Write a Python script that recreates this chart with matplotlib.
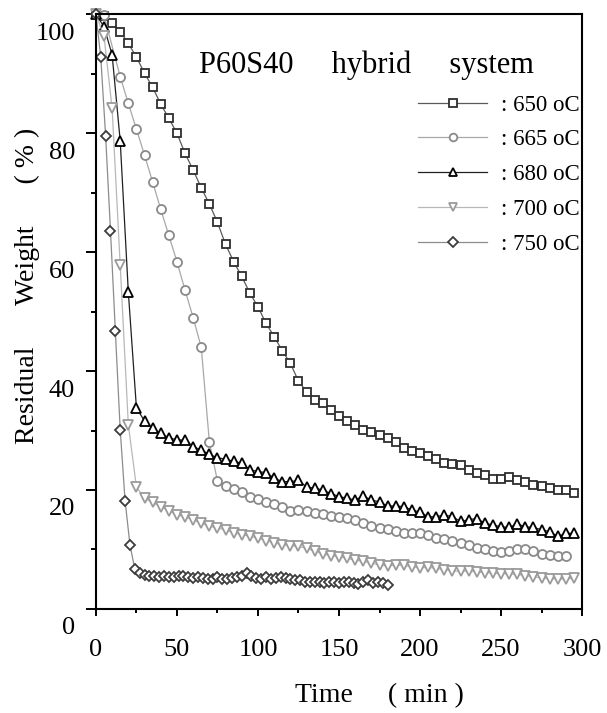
import matplotlib
matplotlib.use("Agg")
import matplotlib.pyplot as plt
import matplotlib.transforms as mtransforms
from matplotlib.ticker import MultipleLocator

plt.rcParams["font.family"] = ["Liberation Serif", "DejaVu Serif"]

t_650 = list(range(0, 300, 5))
w_650 = [100, 99.7, 98.5, 97.1, 95.1, 92.8, 90.1, 87.7, 84.9, 82.5,
         80.0, 76.6, 73.8, 70.8, 68.1, 65.0, 61.3, 58.4, 55.9, 53.1,
         50.8, 48.0, 45.8, 43.4, 41.3, 38.3, 36.5, 35.1, 34.6, 33.4,
         32.5, 31.6, 30.9, 30.1, 29.8, 29.2, 28.7, 28.0, 27.0, 26.6,
         26.2, 25.7, 25.2, 24.5, 24.4, 24.2, 23.4, 22.8, 22.5, 21.8,
         21.8, 22.1, 21.7, 21.4, 20.8, 20.6, 20.3, 20.0, 20.0, 19.5]

t_665 = [0, 5] + list(range(15, 295, 5))
w_665 = [100, 99.8, 89.5, 85.0, 80.7, 76.3, 71.8, 67.2, 62.8, 58.4,
         53.6, 49.0, 44.0, 28.1, 21.5, 20.6, 20.1, 19.6, 18.9, 18.4,
         17.9, 17.6, 17.1, 16.5, 16.7, 16.4, 16.2, 15.9, 15.7, 15.5,
         15.3, 15.0, 14.5, 13.9, 13.6, 13.4, 13.1, 12.8, 12.7, 12.7,
         12.4, 11.9, 11.7, 11.4, 11.1, 10.7, 10.3, 10.0, 9.7, 9.6,
         9.8, 10.1, 10.1, 9.8, 9.3, 9.1, 8.9, 8.9]

t_680 = list(range(0, 300, 5))
w_680 = [100, 97.9, 93.2, 78.7, 53.3, 33.8, 31.6, 30.4, 29.5, 28.8,
         28.4, 28.4, 27.3, 26.7, 26.0, 25.4, 25.2, 24.8, 24.5, 23.4,
         23.1, 22.9, 22.0, 21.4, 21.4, 21.6, 20.5, 20.3, 20.0, 19.4,
         18.9, 18.6, 18.3, 19.0, 18.3, 18.0, 17.3, 17.3, 17.2, 16.6,
         16.3, 15.5, 15.5, 15.8, 15.5, 14.7, 15.0, 15.2, 14.4, 14.1,
         13.8, 13.7, 14.3, 13.8, 13.7, 13.3, 13.0, 12.2, 12.7, 12.7]

t_700 = list(range(0, 300, 5))
w_700 = [100, 96.3, 84.2, 57.8, 31.0, 20.5, 18.6, 17.9, 17.2, 16.5,
         15.8, 15.5, 15.0, 14.4, 13.9, 13.6, 13.3, 12.8, 12.5, 12.2,
         11.9, 11.5, 11.1, 10.8, 10.6, 10.5, 10.2, 9.7, 9.3, 8.9,
         8.8, 8.5, 8.2, 8.0, 7.7, 7.4, 7.2, 7.4, 7.3, 7.1,
         6.9, 7.0, 6.8, 6.6, 6.4, 6.3, 6.4, 6.2, 6.1, 6.0,
         5.9, 5.9, 5.8, 5.6, 5.4, 5.2, 5.1, 5.0, 5.0, 5.2]

t_750 = list(range(0, 183, 3))
w_750 = [100, 92.8, 79.5, 63.6, 46.7, 30.1, 18.2, 10.8, 6.7,
         6.0, 5.7, 5.6, 5.5, 5.4, 5.6, 5.4, 5.3, 5.5, 5.6,
         5.3, 5.2, 5.4, 5.2, 5.0, 5.1, 5.3, 5.1, 5.0, 5.2,
         5.3, 5.5, 6.0, 5.6, 5.2, 5.1, 5.3, 5.0, 5.2, 5.4,
         5.2, 5.0, 4.9, 4.8, 4.6, 4.5, 4.6, 4.5, 4.4, 4.6,
         4.5, 4.4, 4.6, 4.5, 4.3, 4.2, 4.5, 4.8, 4.3, 4.6,
         4.4, 4.1]

labels = [": 650 oC", ": 665 oC", ": 680 oC", ": 700 oC", ": 750 oC"]

fig = plt.figure(figsize=(6.07, 7.13), dpi=100)
ax = fig.add_axes([0.158, 0.146, 0.801, 0.834])

series = [
    (t_650, w_650, "s", 6.0, "#2e2e2e", "#5a5a5a"),
    (t_665, w_665, "o", 6.5, "#8a8a8a", "#a8a8a8"),
    (t_680, w_680, "^", 7.0, "#000000", "#202020"),
    (t_700, w_700, "v", 7.0, "#9a9a9a", "#b8b8b8"),
    (t_750, w_750, "D", 5.5, "#3c3c3c", "#8c8c8c"),
]
for (t, w, mk, ms, ec, lc), lab in zip(series, labels):
    ax.plot(t, w, color=lc, lw=0.9, marker=mk, ms=ms, mfc="white",
            mec=ec, mew=1.3, label=lab, clip_on=False)

ax.set_xlim(0, 300)
ax.set_ylim(0, 100)
ax.xaxis.set_major_locator(MultipleLocator(50))
ax.xaxis.set_minor_locator(MultipleLocator(25))
ax.yaxis.set_major_locator(MultipleLocator(20))
ax.yaxis.set_minor_locator(MultipleLocator(10))
ax.tick_params(which="both", direction="out", width=1.4, labelsize=19)
ax.tick_params(axis="y", which="major", length=7, pad=8)
ax.tick_params(axis="y", which="minor", length=3.5)
ax.tick_params(axis="x", which="major", length=5, pad=17)
ax.tick_params(axis="x", which="minor", length=3)
for sp in ax.spines.values():
    sp.set_linewidth(1.5)

# the y tick numbers sit a little below their ticks in the original
offset = mtransforms.ScaledTranslation(0, -0.17, fig.dpi_scale_trans)
for lab in ax.get_yticklabels():
    lab.set_transform(lab.get_transform() + offset)

ax.text(0.556, 0.915, "P60S40     hybrid     system", transform=ax.transAxes,
        ha="center", va="center", fontsize=22)

ax.set_xlabel("Time     ( min )", fontsize=20)
ax.xaxis.set_label_coords(0.584, -0.125)
ax.set_ylabel("Residual      Weight      ( % )", fontsize=20)
ax.yaxis.set_label_coords(-0.115, 0.543)

ax.legend(loc="upper right", bbox_to_anchor=(0.995, 0.865), frameon=False,
          fontsize=16.5, handlelength=3.0, handletextpad=0.6,
          labelspacing=0.6, borderpad=0, borderaxespad=0, numpoints=1,
          markerscale=0.85)

fig.savefig("out.png", dpi=100)
